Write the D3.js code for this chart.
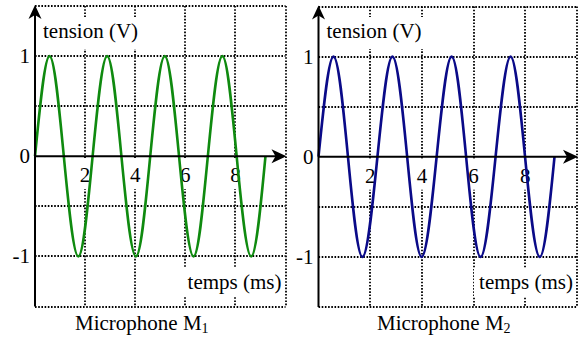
<!DOCTYPE html>
<html>
<head>
<meta charset="utf-8">
<script src="https://cdn.jsdelivr.net/npm/d3@7"></script>
<style>
    html, body { margin: 0; padding: 0; background: #fff; }
    svg { display: block; }
    text { font-family: 'Liberation Serif', 'Times New Roman', 'DejaVu Serif', serif; }
</style>
</head>
<body>
<div id="chart"></div>
<script>
// Axis ranges and tick labels
const timeDomain = [0, 10];
const voltDomain = [-1.5, 1.5];
const timeTicks = [2, 4, 6, 8];
const timeGrid = [2, 4, 6, 8, 10];
const voltTicks = [1, 0, -1];
const voltGrid = [1.5, 1, 0.5, -0.5, -1, -1.5];

// Microphone M1: zero crossings, peaks and troughs (ms, V)
const m1Time = [0, 0.58, 1.15, 1.73, 2.3, 2.88, 3.45, 4.03, 4.6, 5.18, 5.75, 6.33, 6.9, 7.48, 8.05, 8.63, 9.2];
const m1Volt = [0, 1, 0, -1, 0, 1, 0, -1, 0, 1, 0, -1, 0, 1, 0, -1, 0];

// Microphone M2
const m2Time = [0, 0.58, 1.14, 1.7, 2.28, 2.86, 3.43, 3.99, 4.57, 5.15, 5.71, 6.27, 6.85, 7.43, 7.99, 8.56, 9.13];
const m2Volt = [0, 1, 0, -1, 0, 1, 0, -1, 0, 1, 0, -1, 0, 1, 0, -1, 0];

const FONT = 'Liberation Serif, Times New Roman, DejaVu Serif, serif';

const svg = d3.select('#chart')
    .append('svg')
    .attr('width', 579)
    .attr('height', 337);

svg.append('rect').attr('width', 579).attr('height', 337).attr('fill', '#fff');

function drawPanel(opts) {
    const x = d3.scaleLinear().domain(timeDomain).range(opts.xRange);
    const y = d3.scaleLinear().domain(voltDomain).range(opts.yRange);
    const g = svg.append('g').attr('font-family', FONT);
    const x0 = x(0), x1 = x(10), y0 = y(0);
    const yTop = y(1.5), yBot = y(-1.5);

    // Dotted grid (includes top, bottom and right borders)
    const dotted = sel => sel
        .attr('stroke', '#000')
        .attr('stroke-width', 1.8)
        .attr('stroke-dasharray', '1.6 1.6')
        .attr('fill', 'none');

    g.selectAll('.vgrid')
        .data(timeGrid)
        .enter()
        .append('line')
        .attr('x1', d => Math.round(x(d)))
        .attr('x2', d => Math.round(x(d)))
        .attr('y1', yTop)
        .attr('y2', yBot)
        .call(dotted);

    g.selectAll('.hgrid')
        .data(voltGrid)
        .enter()
        .append('line')
        .attr('x1', x0)
        .attr('x2', x1)
        .attr('y1', d => Math.round(y(d)))
        .attr('y2', d => Math.round(y(d)))
        .call(dotted);

    // White boxes behind the labels hide the grid
    const boxes = [
        [x0 + 4, 17, 104, 32],
        [x1 - 103, 268, 100, 29]
    ];
    timeTicks.forEach(t => boxes.push([x(t) - 7, y0 + 2, 14, 31]));
    g.selectAll('.box')
        .data(boxes)
        .enter()
        .append('rect')
        .attr('x', d => d[0])
        .attr('y', d => d[1])
        .attr('width', d => d[2])
        .attr('height', d => d[3])
        .attr('fill', '#fff');

    // Tick labels
    g.selectAll('.xtick')
        .data(timeTicks)
        .enter()
        .append('text')
        .attr('x', d => x(d))
        .attr('y', y0 + 26)
        .attr('text-anchor', 'middle')
        .attr('font-size', 21)
        .text(d => d);

    g.selectAll('.ytick')
        .data(voltTicks)
        .enter()
        .append('text')
        .attr('x', x0 - 5)
        .attr('y', d => y(d) + 7)
        .attr('text-anchor', 'end')
        .attr('font-size', 21)
        .text(d => d);

    // Axis titles
    g.append('text')
        .attr('x', x0 + 8)
        .attr('y', 38)
        .attr('font-size', 21)
        .text('tension (V)');

    g.append('text')
        .attr('x', x1 - 4)
        .attr('y', 289)
        .attr('text-anchor', 'end')
        .attr('font-size', 21)
        .text('temps (ms)');

    // Signal
    const line = d3.line()
        .x(d => x(d[0]))
        .y(d => y(d[1]))
        .curve(d3.curveNatural);

    g.append('path')
        .datum(d3.zip(opts.time, opts.volt))
        .attr('d', line)
        .attr('fill', 'none')
        .attr('stroke', opts.color)
        .attr('stroke-width', 2.6);

    // Axes with arrows
    g.append('line')
        .attr('x1', x0).attr('x2', x0)
        .attr('y1', yBot).attr('y2', yTop + 4)
        .attr('stroke', '#000').attr('stroke-width', 2);
    g.append('line')
        .attr('x1', x0).attr('x2', x1 - 4)
        .attr('y1', y0).attr('y2', y0)
        .attr('stroke', '#000').attr('stroke-width', 2);

    g.append('path')
        .attr('d', `M${x0},${yTop - 1} L${x0 + 6.5},${yTop + 13} L${x0},${yTop + 9} L${x0 - 6.5},${yTop + 13} Z`)
        .attr('fill', '#000');
    g.append('path')
        .attr('d', `M${x1 + 1},${y0} L${x1 - 14},${y0 - 7} L${x1 - 10},${y0} L${x1 - 14},${y0 + 7} Z`)
        .attr('fill', '#000');

    // Caption
    const cap = g.append('text')
        .attr('x', opts.captionX)
        .attr('y', 330)
        .attr('font-size', 21)
        .text('Microphone M');
    cap.append('tspan')
        .attr('font-size', 14)
        .attr('dy', 3)
        .text(opts.index);
}

drawPanel({
    xRange: [35, 285.5],
    yRange: [306.5, 6],
    time: m1Time,
    volt: m1Volt,
    color: '#0f8a0f',
    captionX: 75,
    index: '1'
});

drawPanel({
    xRange: [318.5, 577],
    yRange: [307, 6.5],
    time: m2Time,
    volt: m2Volt,
    color: '#0a0a88',
    captionX: 377,
    index: '2'
});
</script>
</body>
</html>
